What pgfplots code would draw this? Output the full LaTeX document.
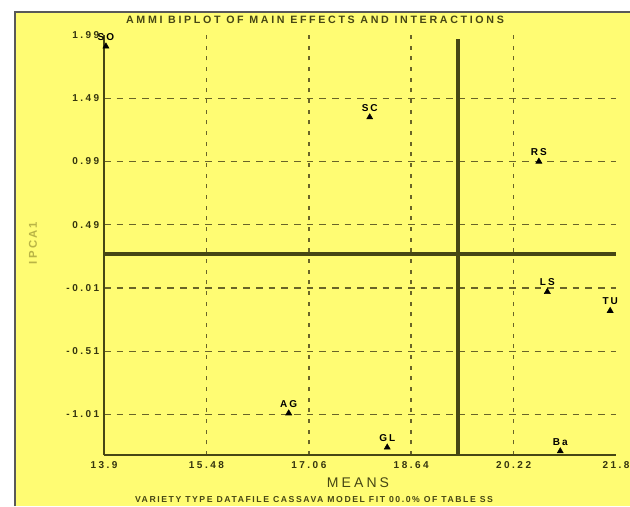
\documentclass[border=0pt]{standalone}
\usepackage{pgfplots}
\pgfplotsset{compat=1.18}
\usepackage{fontspec}
\setmainfont{Liberation Sans}
\definecolor{bgy}{RGB}{255,252,115}
\definecolor{olv}{RGB}{70,70,20}
\definecolor{grd}{RGB}{105,100,40}
\definecolor{ylab}{RGB}{185,180,70}
\begin{document}
\begin{tikzpicture}
\path[use as bounding box] (0pt,0pt) rectangle (472.5pt,379.5pt);
\fill[white] (0pt,0pt) rectangle (472.5pt,379.5pt);
\fill[bgy] (11.25pt,0pt) rectangle (472.5pt,370.5pt);
\draw[gray!70!black, line width=1.5pt] (11.25pt,0pt) -- (11.25pt,370.5pt) -- (472.5pt,370.5pt);
\begin{axis}[
  at={(78pt,38.25pt)}, anchor=south west,
  scale only axis, width=384pt, height=315pt,
  xmin=13.9, xmax=21.8, ymin=-1.33, ymax=1.99,
  axis lines*=left,
  axis line style={olv, line width=2.2pt},
  xtick={13.9,15.48,17.06,18.64,20.22},
  xticklabels={13.9,15.48,17.06,18.64,20.22},
  extra x ticks={21.8}, extra x tick labels={21.8},
  extra x tick style={grid=none},
  ytick={-1.01,-0.51,-0.01,0.49,0.99,1.49},
  yticklabels={-1.01,-0.51,-0.01,0.49,0.99,1.49},
  extra y ticks={1.99}, extra y tick labels={1.99},
  extra y tick style={grid=none},
  tick style={draw=none},
  ticklabel style={font=\fontsize{7.5}{8}\selectfont\bfseries\addfontfeatures{LetterSpace=25}, text=olv!75!black},
  xticklabel style={yshift=-1pt},
  grid=major,
  major x grid style={grd, line width=1.1pt, dash pattern=on 3pt off 5pt},
  major y grid style={grd, line width=1.1pt, dash pattern=on 5pt off 4.5pt},
  clip=false,
]
\addplot[olv, line width=2.6pt, forget plot] coordinates {(13.9,0.26) (21.8,0.26)};
\addplot[olv, line width=2.6pt, forget plot] coordinates {(19.36,-1.33) (19.36,1.96)};
\addplot[only marks, mark=triangle*, mark size=2.6pt, black,
  nodes near coords, point meta=explicit symbolic,
  every node near coord/.style={font=\fontsize{7.5}{8}\selectfont\bfseries\addfontfeatures{LetterSpace=20}, text=black, anchor=south, yshift=1pt}]
  table[meta=lab] {
x y lab
13.93 1.90 SO
18.00 1.34 SC
20.61 0.99 RS
20.74 -0.04 LS
21.71 -0.19 TU
16.75 -1.00 AG
18.27 -1.27 GL
20.94 -1.30 Ba
};
\end{axis}
\node[font=\fontsize{8}{9}\selectfont\bfseries\addfontfeatures{LetterSpace=25}, text=olv] at (236.25pt,364.5pt) {AMMI BIPLOT OF MAIN EFFECTS AND INTERACTIONS};
\node[font=\fontsize{10.5}{11}\selectfont\addfontfeatures{LetterSpace=22}, text=olv] at (268.5pt,17.25pt) {MEANS};
\node[font=\fontsize{6.5}{7}\selectfont\bfseries\addfontfeatures{LetterSpace=18}, text=olv] at (235.5pt,4.5pt) {VARIETY TYPE DATAFILE CASSAVA MODEL FIT 00.0\% OF TABLE SS};
\node[rotate=90, font=\fontsize{8.5}{9}\selectfont\bfseries\addfontfeatures{LetterSpace=20}, text=ylab] at (24.75pt,197.25pt) {IPCA1};
\end{tikzpicture}
\end{document}
